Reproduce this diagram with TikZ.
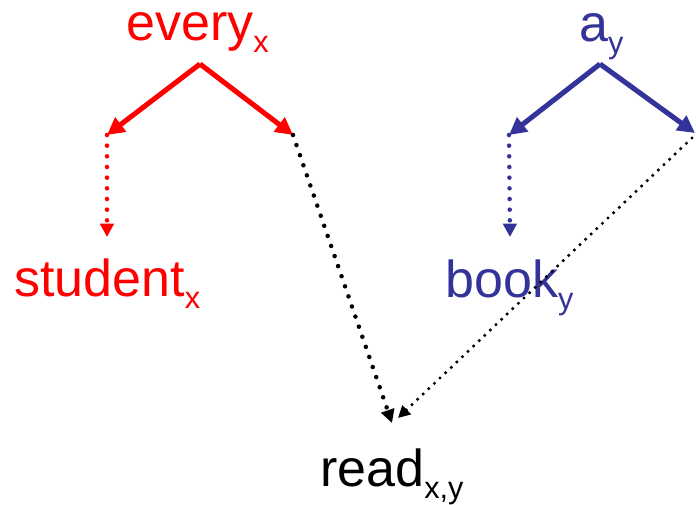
\documentclass[tikz,border=0pt]{standalone}
\usepackage{fontspec}
\setmainfont{Liberation Sans}
\usetikzlibrary{arrows.meta}
\definecolor{qred}{RGB}{255,0,0}
\definecolor{qblue}{RGB}{51,51,153}
\newcommand{\mysub}[1]{\raisebox{-8.5pt}{\fontsize{23}{23}\selectfont #1}}
\tikzset{
  word/.style={anchor=base west, inner sep=0pt, font=\fontsize{39}{39}\selectfont},
  solidarrow/.style={line width=3.8pt, -{Triangle[length=13pt,width=13pt]}},
  dotarrow/.style={line width=3.4pt, line cap=round, dash pattern=on 0pt off 8pt,
     -{Triangle[length=10pt,width=10pt,line cap=butt]}},
  finedot/.style={line width=2.6pt, line cap=round, dash pattern=on 0pt off 5.8pt,
     -{Triangle[length=9pt,width=9pt]}},
}
\begin{document}
\begin{tikzpicture}[x=0.75pt,y=-0.75pt]
\useasboundingbox (0,0) rectangle (696,505);
% words
\node[word, text=qred] (every) at (126,41) {every\mysub{x}};
\node[word, text=qred] (student) at (14,297) {student\mysub{x}};
\node[word, text=qblue] (a) at (579,42) {a\mysub{y}};
\node[word, text=qblue] (book) at (445,298) {book\mysub{y}};
\node[word] (read) at (320,487) {read\mysub{x,y}};
% points
\coordinate (eA) at (200,64);
\coordinate (eL) at (107,135);
\coordinate (eR) at (293,135);
\coordinate (sT) at (107,237);
\coordinate (aA) at (600,64);
\coordinate (aL) at (509,135);
\coordinate (aR) at (695,133);
\coordinate (bT) at (510,237);
\coordinate (r1) at (392,423);
\coordinate (r2) at (398,418);
% red
\draw[qred, solidarrow] (eA) -- (eL);
\draw[qred, solidarrow] (eA) -- (eR);
\draw[qred, dotarrow] (eL) -- (sT);
% blue
\draw[qblue, solidarrow] (aA) -- (aL);
\draw[qblue, solidarrow] (aA) -- (aR);
\draw[qblue, dotarrow] (aL) -- (bT);
% black
\draw[black, dotarrow] (eR) -- (r1);
\draw[black, finedot] ([shift={(-3,5)}]aR) -- (r2);
\end{tikzpicture}
\end{document}
